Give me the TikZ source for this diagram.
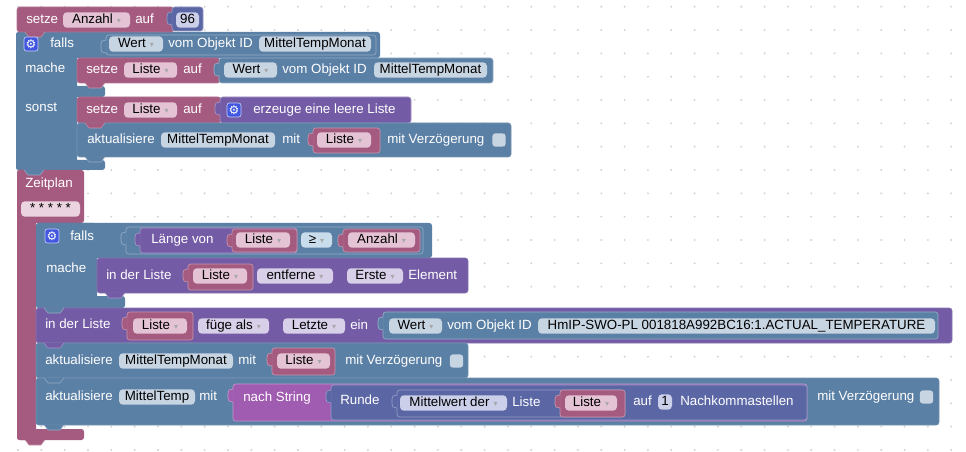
\documentclass[tikz,border=0pt]{standalone}
\usepackage{fontspec}
\setmainfont{Liberation Sans}
\newfontfamily\djv{DejaVu Sans}
\definecolor{cred}{HTML}{A55B80}
\definecolor{cblue}{HTML}{5B80A5}
\definecolor{cpurple}{HTML}{745BA5}
\definecolor{cmath}{HTML}{5B67A5}
\definecolor{cstr}{HTML}{A05CB0}
\definecolor{fred}{HTML}{E4C4D4}
\definecolor{fstar}{HTML}{EBD3DF}
\definecolor{fblue}{HTML}{C7D4E2}
\definecolor{fcmp}{HTML}{C9DCEB}
\definecolor{fpurple}{HTML}{D8CFE9}
\definecolor{fmath}{HTML}{CBCFE9}
\definecolor{dotc}{HTML}{D2D2D2}
\definecolor{gearc}{HTML}{4157E0}
\definecolor{ddc}{HTML}{A8A8A8}
\tikzset{
  lbl/.style={anchor=west, inner sep=0pt, text=white, font=\fontsize{10}{12}\selectfont, text height=7.2pt, text depth=2pt},
  fieldbox/.style={rounded corners=3pt, inner sep=0pt, minimum height=11.6pt, text=black, font=\fontsize{10}{12}\selectfont, text height=7.2pt, text depth=2pt},
  gearbox/.style={fill=gearc, draw=white!70!gearc, line width=0.5pt, rounded corners=1.8pt, minimum size=10.5pt, inner sep=0pt, text=white, font=\djv\fontsize{9}{9}\selectfont},
  chkbox/.style={fill=fblue, rounded corners=2pt, minimum size=9.8pt, inner sep=0pt},
  sblkstyle/.style={rounded corners=2pt, line width=0.4pt},
}
\newcommand\dd{\hspace{3pt}{\djv\fontsize{6}{6}\selectfont\textcolor{ddc}{▾}}}
% plain filled part
\newcommand\blk[5]{\fill[#1, rounded corners=2pt] (#2,#3) rectangle (#4,#5);}
% statement block with thin light edge
\newcommand\sblk[5]{\draw[sblkstyle, fill=#1, draw=#1!85!white] (#2,#3) rectangle (#4,#5);}
% value block with left tab
\newcommand\vblk[5]{%
  \draw[rounded corners=2pt, fill=#1, draw=#1!65!white, line width=0.5pt] (#2,#3) rectangle (#4,#5);
  \fill[#1] ({#2+0.6},{#3+5}) -- ({#2-4},{#3+6}) -- ({#2-5},{#3+9}) -- ({#2-5},{#3+14}) -- ({#2-4},{#3+17}) -- ({#2+0.6},{#3+18}) -- cycle;
  \draw[#1!65!white, line width=0.5pt] ({#2},{#3+5}) -- ({#2-4},{#3+6}) -- ({#2-5},{#3+9}) -- ({#2-5},{#3+14}) -- ({#2-4},{#3+17}) -- ({#2},{#3+18});}
% statement bottom tab
\newcommand\stab[3]{%
  \fill[#1] ({#2+8},{#3-0.5}) -- ({#2+12},{#3+5}) -- ({#2+24},{#3+5}) -- ({#2+28},{#3-0.5}) -- cycle;
  \draw[#1!65!white, line width=0.4pt] ({#2+8},{#3}) -- ({#2+12},{#3+5}) -- ({#2+24},{#3+5}) -- ({#2+28},{#3});}
% field: name, fill, x1, x2, yc, text
\newcommand\fld[6]{\node[fieldbox, fill=#2, minimum width={(#4-#3)*0.75pt}] (#1) at ({(#3+#4)/2},#5) {#6};}
\begin{document}
\begin{tikzpicture}[x=0.75pt,y=-0.75pt]
\useasboundingbox (0,0) rectangle (966,452);
\fill[white] (0,0) rectangle (966,452);
\foreach \i in {0,...,41} {\foreach \j in {0,...,19} {\fill[dotc] ({18+23.33*\i},{6.7+23.33*\j}) circle[radius=0.8pt];}}

% ---------- if block (first) ----------
\blk{cblue}{16}{32}{380}{58}
\blk{cblue}{16}{32}{77}{170}
\blk{cblue}{16}{86}{105}{97}
\blk{cblue}{16}{160}{105}{170}
\vblk{cblue}{106}{35}{376}{55}
% mache statement
\sblk{cred}{77}{58}{220}{83}
\vblk{cblue}{219}{58}{493}{83}
% sonst statements
\sblk{cred}{77}{97}{221}{123}
\vblk{cpurple}{220}{97}{411}{123}
\sblk{cblue}{77}{123}{511}{157}
\vblk{cred}{313}{128}{380}{153}

% ---------- setze Anzahl ----------
\sblk{cred}{17}{7}{174}{32}
\vblk{cmath}{172}{7}{203}{31}

% ---------- Zeitplan ----------
\blk{cred}{17}{170}{84}{223}
\blk{cred}{17}{170}{36}{440}
\blk{cred}{17}{429}{84}{440}

% inner if
\blk{cblue}{36}{223}{432}{258}
\blk{cblue}{36}{223}{97}{308}
\blk{cblue}{36}{296}{125}{308}
\vblk{cblue}{126}{227}{423}{254}
\vblk{cpurple}{140}{228}{297}{253}
\vblk{cred}{232}{229}{297}{252}
\vblk{cred}{343}{229}{420}{252}
\sblk{cpurple}{97}{258}{468}{293}
\vblk{cred}{188}{264}{253}{290}

% fuege als
\sblk{cpurple}{36}{308}{952}{343}
\vblk{cred}{127}{312}{193}{340}
\vblk{cblue}{383}{312}{938}{339}

% aktualisiere MittelTempMonat
\sblk{cblue}{36}{343}{468}{378}
\vblk{cred}{272}{348}{335}{375}

% aktualisiere MittelTemp
\sblk{cblue}{36}{378}{939}{425}
\vblk{cstr}{233}{384}{807}{421}
\vblk{cmath}{331}{385}{807}{420}
\vblk{cmath}{397}{390}{625}{417}
\vblk{cred}{560}{390}{625}{417}

% ---------- tabs ----------
\stab{cred}{17}{32}
\stab{cred}{77}{83}
\stab{cred}{77}{123}
\stab{cblue}{77}{157}
\stab{cblue}{16}{170}
\stab{cpurple}{97}{293}
\stab{cblue}{36}{308}
\stab{cpurple}{36}{343}
\stab{cblue}{36}{378}
\stab{cblue}{36}{425}
\stab{cred}{17}{440}

% ---------- texts: row 1 ----------
\node[lbl] (t1) at (26,20) {setze};
\fld{f1}{fred}{63}{130}{20}{Anzahl\dd}
\node[lbl] (t2) at (135,20) {auf};
\fld{f2}{fmath}{176}{199}{20}{96}

% if block 1
\node[gearbox] (g1) at (31,44) {⚙};
\node[lbl] (t3) at (50,44) {falls};
\fld{f3}{fblue}{109}{163}{44}{Wert\dd}
\node[lbl] (t4) at (168,44) {vom Objekt ID};
\fld{f4}{fblue}{259}{371}{44}{MittelTempMonat}

\node[lbl] (t5) at (25,69) {mache};
\node[lbl] (t6) at (86,70) {setze};
\fld{f5}{fred}{124}{177}{70}{Liste\dd}
\node[lbl] (t7) at (183,70) {auf};
\fld{f6}{fblue}{224}{277}{70}{Wert\dd}
\node[lbl] (t8) at (282,70) {vom Objekt ID};
\fld{f7}{fblue}{374}{487}{70}{MittelTempMonat}

\node[lbl] (t9) at (25,108) {sonst};
\node[lbl] (t10) at (86,110) {setze};
\fld{f8}{fred}{124}{177}{110}{Liste\dd}
\node[lbl] (t11) at (183,110) {auf};
\node[gearbox] (g2) at (234,110) {⚙};
\node[lbl] (t12) at (253,110) {erzeuge eine leere Liste};

\node[lbl] (t13) at (87,140) {aktualisiere};
\fld{f9}{fblue}{161}{275}{140}{MittelTempMonat}
\node[lbl] (t14) at (282,140) {mit};
\fld{f10}{fred}{317}{371}{140}{Liste\dd}
\node[lbl] (t15) at (387,140) {mit Verzögerung};
\node[chkbox] (c1) at (499,140) {};

% Zeitplan
\node[lbl] (t16) at (25,184) {Zeitplan};
\fld{f11}{fstar}{21}{80}{209}{* * * * *}

% inner if
\node[gearbox] (g3) at (52,236) {⚙};
\node[lbl] (t17) at (70,237) {falls};
\node[lbl] (t18) at (151,240) {Länge von};
\fld{f12}{fred}{236}{290}{240}{Liste\dd}
\fld{f13}{fcmp}{301}{332}{240}{≥\dd}
\fld{f14}{fred}{348}{415}{240}{Anzahl\dd}

\node[lbl] (t19) at (46,269) {mache};
\node[lbl] (t20) at (106,276) {in der Liste};
\fld{f15}{fred}{193}{247}{276}{Liste\dd}
\fld{f16}{fpurple}{257}{333}{276}{entferne\dd}
\fld{f17}{fpurple}{347}{403}{276}{Erste\dd}
\node[lbl] (t21) at (408,276) {Element};

% fuege als
\node[lbl] (t22) at (45,325) {in der Liste};
\fld{f18}{fred}{133}{187}{326}{Liste\dd}
\fld{f19}{fpurple}{198}{269}{326}{füge als\dd}
\fld{f20}{fpurple}{283}{345}{326}{Letzte\dd}
\node[lbl] (t23) at (350,326) {ein};
\fld{f21}{fblue}{389}{442}{326}{Wert\dd}
\node[lbl] (t24) at (447,326) {vom Objekt ID};
\fld{f22}{fblue}{538}{935}{326}{HmIP-SWO-PL 001818A992BC16:1.ACTUAL\_TEMPERATURE}

% aktualisiere MittelTempMonat
\node[lbl] (t25) at (45,361) {aktualisiere};
\fld{f23}{fblue}{119}{233}{361}{MittelTempMonat}
\node[lbl] (t26) at (238,361) {mit};
\fld{f24}{fred}{277}{330}{361}{Liste\dd}
\node[lbl] (t27) at (345,361) {mit Verzögerung};
\node[chkbox] (c2) at (456.5,361) {};

% aktualisiere MittelTemp
\node[lbl] (t28) at (45,397) {aktualisiere};
\fld{f25}{fblue}{119}{195}{397}{MittelTemp}
\node[lbl] (t29) at (199,397) {mit};
\node[lbl] (t30) at (243,398) {nach String};
\node[lbl] (t31) at (340,401) {Runde};
\fld{f26}{fmath}{400}{507}{403}{Mittelwert der\dd}
\node[lbl] (t32) at (512,403) {Liste};
\fld{f27}{fred}{565}{617}{403}{Liste\dd}
\node[lbl] (t33) at (633,402) {auf};
\fld{f28}{fmath}{658}{672}{402}{1}
\node[lbl] (t34) at (680,402) {Nachkommastellen};
\node[lbl] (t35) at (817,397) {mit Verzögerung};
\node[chkbox] (c3) at (926.5,397) {};
\end{tikzpicture}
\end{document}
